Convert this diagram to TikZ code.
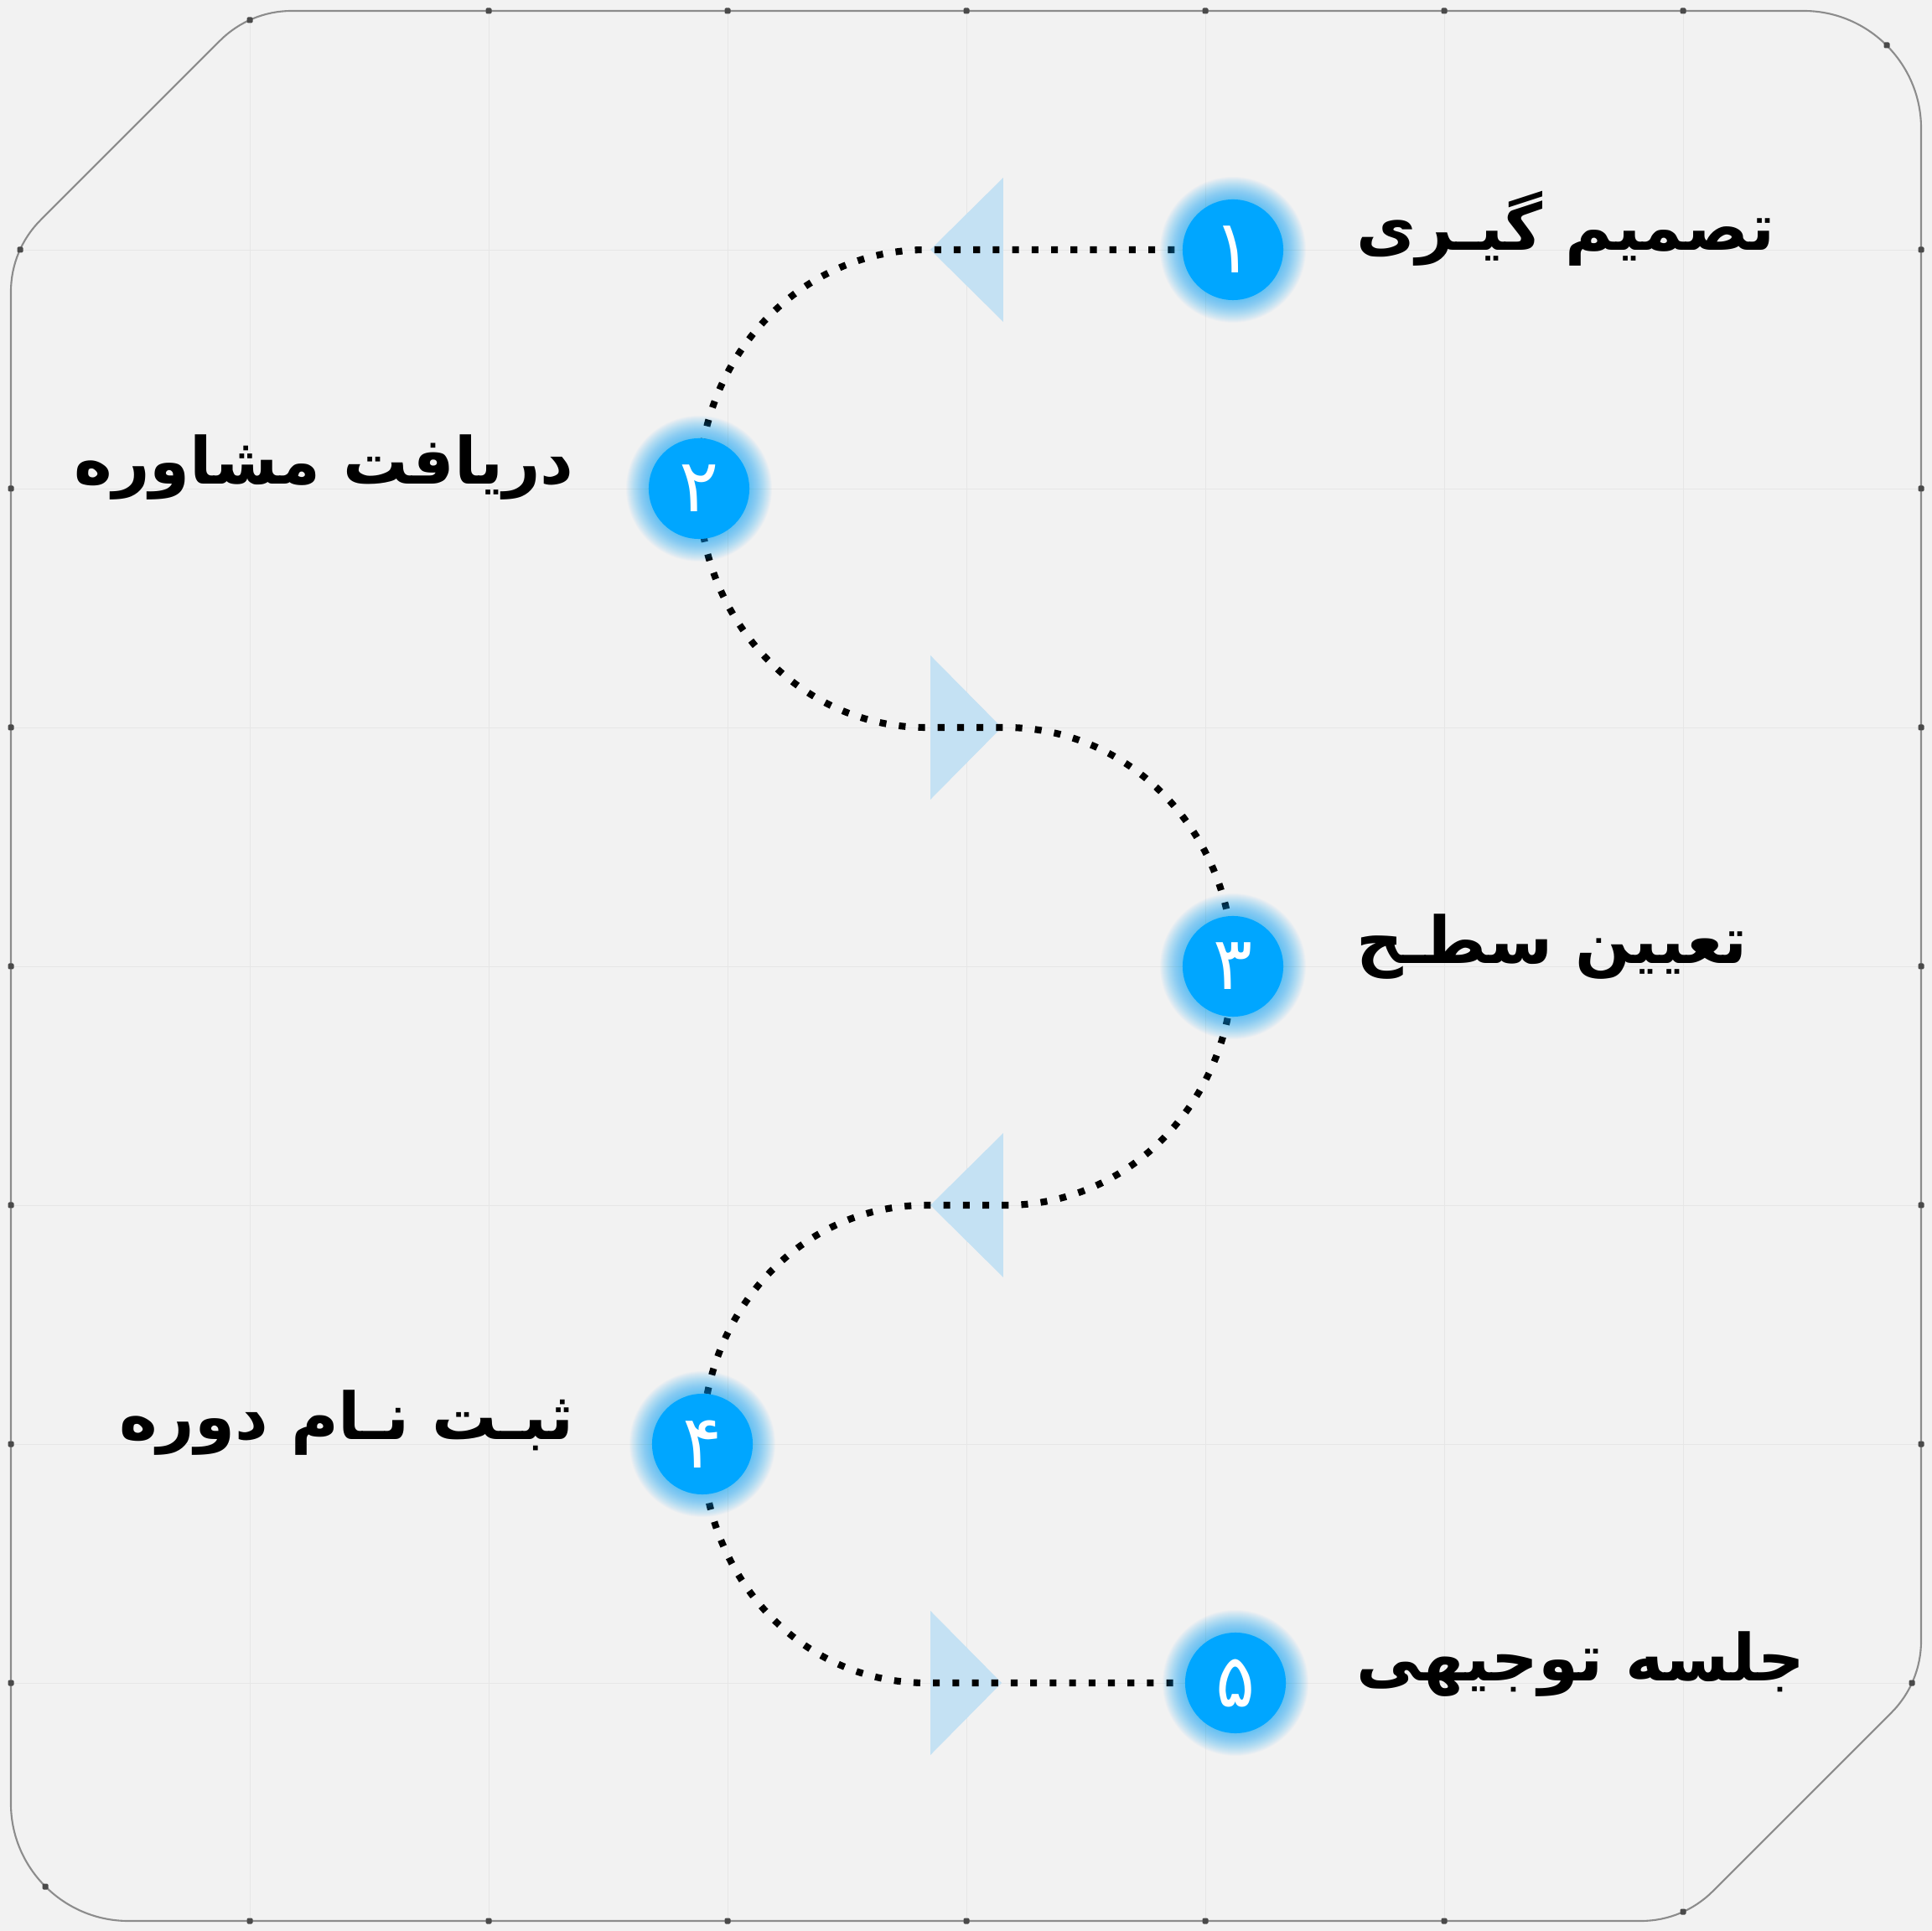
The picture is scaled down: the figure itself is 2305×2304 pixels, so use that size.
\documentclass[tikz,border=0pt]{standalone}
\usepackage{fontspec}
\TeXXeTstate=1
\newfontfamily\arabicfont[Script=Arabic]{DejaVu Sans}

\definecolor{bgc}{HTML}{F2F2F2}
\definecolor{gridc}{HTML}{E6E6E6}
\definecolor{framec}{HTML}{8C8C8C}
\definecolor{markc}{HTML}{4A4A4A}
\definecolor{stepc}{HTML}{00A6FF}
\definecolor{tric}{HTML}{C4E1F3}

\pgfdeclarelayer{back}
\pgfdeclarelayer{mid}
\pgfsetlayers{back,mid,main}

\tikzset{
  stepnode/.style={circle, fill=stepc, minimum size=1.2cm, inner sep=0pt,
    text=white, font=\arabicfont\fontsize{25}{26}\selectfont},
  steptext/.style={font=\arabicfont\bfseries\fontsize{22}{26}\selectfont, inner sep=0pt},
  dotline/.style={line width=2.3pt, dash pattern=on 2.3pt off 4.3pt},
  tri/.style={fill=tric},
  frameline/.style={draw=framec, line width=0.6pt},
}
\newcommand\frmark[2]{\fill[markc, rounded corners=0.4pt] (#1-3.5,#2-3.5) rectangle (#1+3.5,#2+3.5);}

\begin{document}
\begin{tikzpicture}[x=0.01cm, y=-0.01cm]
  \useasboundingbox (0,0) rectangle (2305,2304);

  % steps
  \foreach \i/\x/\y/\d in {1/1471/298/۱, 2/834/583/۲, 3/1471/1153/۳, 4/838/1723/۴, 5/1474/2008/۵}{
    \foreach \r in {87,86,...,60}
      \fill[stepc, fill opacity=0.026] (\x,\y) circle[radius=\r];
    \node[stepnode] (n\i) at (\x,\y) {\d};
  }

  \node[steptext, anchor=west] (l1) at (1618,273) {\beginR تصمیم گیـری\endR};
  \node[steptext, anchor=east] (l2) at (685,558) {\beginR دریافت مشاوره\endR};
  \node[steptext, anchor=west] (l3) at (1618,1130) {\beginR تعیین سطـح\endR};
  \node[steptext, anchor=east] (l4) at (685,1698) {\beginR ثبـت نـام دوره\endR};
  \node[steptext, anchor=west] (l5) at (1618,1986) {\beginR جلسه توجیهی\endR};

  \coordinate (t1) at (1153,298);
  \coordinate (t2) at (1153,868);
  \coordinate (t3) at (1153,1438);
  \coordinate (t4) at (1153,2008);

  \begin{pgfonlayer}{mid}
    \foreach \tp in {t1,t3} \fill[tri] ([xshift=-0.43cm]\tp) -- ++(87,-86) -- ++(0,172) -- cycle;
    \foreach \tp in {t2,t4} \fill[tri] ([xshift=0.42cm]\tp) -- ++(-85,-86) -- ++(0,172) -- cycle;
    \draw[dotline] (n1.center) -- ([xshift=-0.48cm]t1)
      .. controls +(-150,0) and +(0,-157) .. (n2.center)
      .. controls +(0,157) and +(-150,0) .. ([xshift=-0.48cm]t2) -- ([xshift=0.47cm]t2)
      .. controls +(150,0) and +(0,-157) .. (n3.center)
      .. controls +(0,157) and +(150,0) .. ([xshift=0.47cm]t3) -- ([xshift=-0.48cm]t3)
      .. controls +(-150,0) and +(0,-157) .. (n4.center)
      .. controls +(0,157) and +(-150,0) .. ([xshift=-0.48cm]t4) -- (n5.center);
  \end{pgfonlayer}

  \begin{pgfonlayer}{back}
    \fill[bgc] (0,0) rectangle (2305,2304);
    \path[save path=\framepath] (13,2152) -- (13,348)
      .. controls (13,316) and (25.7,285.3) .. (48.4,262.6) -- (262.6,48.4)
      .. controls (285.3,25.7) and (316,13) .. (348,13) -- (2152,13)
      .. controls (2229,13) and (2292,76) .. (2292,153) -- (2292,1958)
      .. controls (2292,1990) and (2279.3,2020.7) .. (2256.6,2043.4) -- (2043.4,2256.6)
      .. controls (2020.7,2279.3) and (1990,2292) .. (1958,2292) -- (153,2292)
      .. controls (76,2292) and (13,2229) .. (13,2152) -- cycle;
    \begin{scope}
      \clip[use path=\framepath];
      \foreach \k in {1,...,7}{
        \draw[gridc, line width=0.25pt] (13+285*\k,0) -- (13+285*\k,2304);
        \draw[gridc, line width=0.25pt] (0,13+285*\k) -- (2305,13+285*\k);
      }
    \end{scope}
    \draw[frameline, use path=\framepath];
    \foreach \k in {1,...,6}{
      \frmark{13+285*\k}{2292}
      \frmark{2292}{13+285*\k}
      \frmark{298+285*\k}{13}
      \frmark{13}{298+285*\k}
    }
    \frmark{298}{24} \frmark{24}{298} \frmark{2251}{54}
    \frmark{54}{2251} \frmark{2281}{2008} \frmark{2008}{2281}
  \end{pgfonlayer}
\end{tikzpicture}
\end{document}
